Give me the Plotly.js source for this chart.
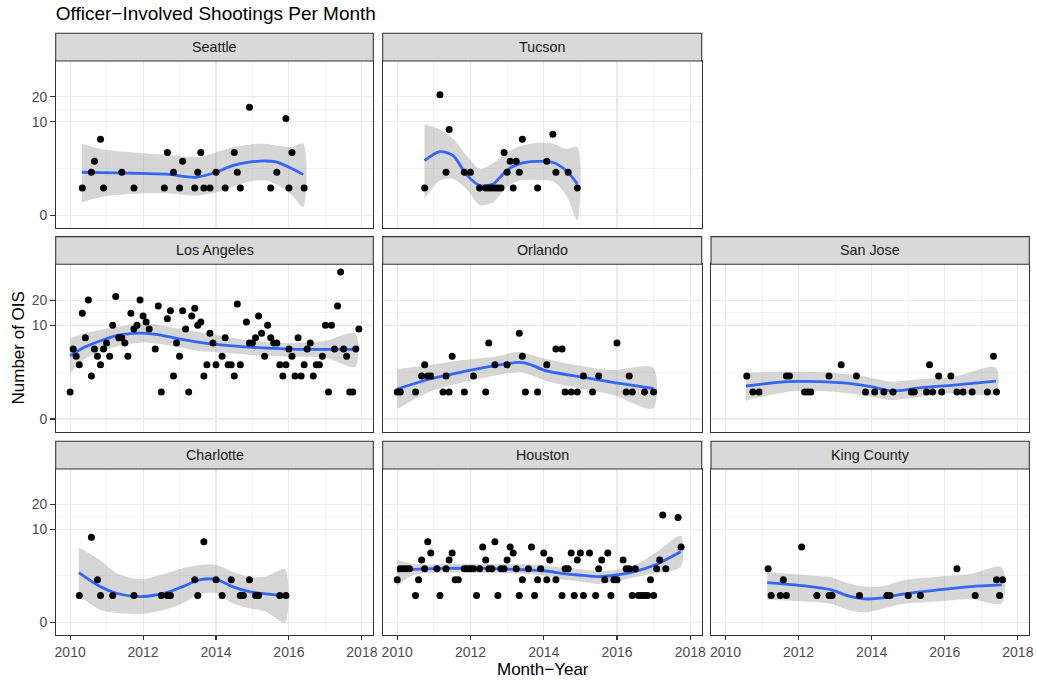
<!DOCTYPE html>
<html><head><meta charset="utf-8">
<script src="https://cdn.plot.ly/plotly-3.0.1.min.js"></script>
<style>html,body{margin:0;padding:0;background:#fff}#chart{width:1037px;height:680px}</style>
</head><body><div id="chart"></div>
<script>
// ---------- DATA (counts per month; fit/ribbon in log(1+n) units) ----------
const xTickLabels = ['2010','2012','2014','2016','2018'];
const yTickLabels = [0, 10, 20];

const seattleMonths = ['2010-05','2010-08','2010-09','2010-11','2010-12','2011-06','2011-10','2012-08','2012-09','2012-11','2013-01','2013-02','2013-06','2013-07','2013-08','2013-09','2013-11','2014-01','2014-04','2014-07','2014-08','2014-09','2014-12','2015-07','2015-09','2015-12','2016-01','2016-02','2016-06'];
const seattleCounts = [1,2,3,6,1,2,1,1,4,2,1,3,1,2,4,1,1,2,1,4,2,1,15,1,2,11,1,4,1];
const seattleFitYear = [2010.32,2010.82,2011.73,2012.64,2013.45,2014.0,2014.45,2014.91,2015.36,2015.64,2016.09,2016.39];
const seattleFit   = [1.10,1.09,1.075,1.05,0.972,1.10,1.27,1.36,1.39,1.365,1.19,1.04];
const seattleUpper = [1.83,1.70,1.61,1.55,1.49,1.61,1.74,1.81,1.83,1.79,1.75,1.84];
const seattleLower = [0.33,0.46,0.545,0.56,0.50,0.58,0.715,0.86,0.89,0.80,0.50,0.20];

const tucsonMonths = ['2010-10','2011-03','2011-05','2011-06','2011-11','2012-01','2012-04','2012-06','2012-07','2012-08','2012-09','2012-10','2012-11','2012-12','2013-01','2013-02','2013-03','2013-04','2013-05','2013-06','2013-11','2014-02','2014-04','2014-05','2014-09','2014-12'];
const tucsonCounts = [1,21,2,8,2,2,1,1,1,1,1,1,1,4,2,3,1,3,2,6,1,3,7,2,2,1];
const tucsonFitYear = [2010.745,2011.164,2011.527,2011.89,2012.255,2012.62,2012.98,2013.345,2013.8,2014.255,2014.618,2014.918];
const tucsonFit   = [1.40,1.63,1.53,1.04,0.76,0.80,1.14,1.32,1.38,1.35,1.14,0.80];
const tucsonUpper = [2.34,2.20,1.96,1.53,1.19,1.34,1.60,1.77,1.855,1.83,1.70,1.74];
const tucsonLower = [0.415,0.887,0.93,0.67,0.26,0.33,0.715,0.887,0.90,0.86,0.50,-0.14];

const laMonths = ['2010-01','2010-02','2010-03','2010-04','2010-05','2010-06','2010-07','2010-08','2010-09','2010-10','2010-11','2010-12',
 '2011-01','2011-02','2011-03','2011-04','2011-05','2011-06','2011-07','2011-08','2011-09','2011-10','2011-11','2011-12',
 '2012-01','2012-02','2012-03','2012-05','2012-06','2012-07','2012-09','2012-10','2012-11','2012-12',
 '2013-01','2013-02','2013-03','2013-04','2013-05','2013-06','2013-07','2013-08','2013-09','2013-10','2013-11','2013-12',
 '2014-01','2014-03','2014-04','2014-05','2014-06','2014-07','2014-08','2014-09','2014-11','2014-12',
 '2015-01','2015-02','2015-03','2015-04','2015-05','2015-06','2015-07','2015-08','2015-09','2015-10','2015-11','2015-12',
 '2016-01','2016-02','2016-03','2016-04','2016-05','2016-06','2016-07','2016-08','2016-09','2016-10','2016-11','2016-12',
 '2017-01','2017-02','2017-03','2017-04','2017-05','2017-06','2017-07','2017-08','2017-09','2017-10','2017-11','2017-12'];
const laCounts = [1,5,4,3,14,7,20,2,5,4,3,5,
 6,4,10,22,7,7,6,4,14,9,10,20,
 13,11,9,5,17,1,12,15,2,6,
 4,15,9,1,13,16,10,11,2,3,8,6,
 3,4,7,3,3,2,18,3,11,6,
 6,7,13,8,4,10,7,6,6,3,2,3,
 5,4,2,7,2,3,5,6,2,3,3,4,
 10,1,10,5,17,42,5,4,1,1,5,9];
const laFitYear = [2010.0,2010.36,2010.82,2011.27,2011.73,2012.0,2012.36,2012.91,2013.55,2014.0,2015.0,2016.0,2017.0,2017.82];
const laFit   = [1.62,1.826,1.996,2.133,2.19,2.20,2.167,2.065,1.963,1.908,1.834,1.79,1.784,1.784];
const laUpper = [2.065,2.19,2.28,2.36,2.42,2.449,2.42,2.32,2.22,2.15,2.0,1.94,2.0,2.19];
const laLower = [1.17,1.51,1.72,1.85,1.93,1.96,1.93,1.85,1.74,1.706,1.638,1.596,1.57,1.34];

const orlandoMonths = ['2010-01','2010-02','2010-07','2010-09','2010-10','2010-11','2010-12','2011-04','2011-05','2011-06','2011-07','2011-11','2012-02','2012-06','2012-07','2012-09','2013-01','2013-05','2013-06','2013-07','2013-11','2014-02','2014-05','2014-07','2014-08','2014-10','2014-12','2015-02','2015-05','2015-07','2016-01','2016-04','2016-05','2016-06','2016-10','2017-01'];
const orlandoCounts = [1,1,1,2,3,2,2,1,2,1,4,1,2,1,6,3,3,8,4,1,1,3,5,5,1,1,1,2,1,2,6,1,2,1,1,1];
const orlandoFitYear = [2010.0,2010.89,2011.8,2012.66,2013.345,2013.62,2014.07,2014.98,2015.89,2016.99];
const orlandoFit   = [0.768,1.024,1.21,1.365,1.45,1.40,1.23,1.084,0.938,0.785];
const orlandoUpper = [1.28,1.382,1.51,1.596,1.724,1.66,1.536,1.365,1.254,1.314];
const orlandoLower = [0.256,0.70,0.938,1.109,1.195,1.13,0.973,0.785,0.614,0.273];

const sanJoseMonths = ['2010-08','2010-10','2010-12','2011-09','2011-10','2012-03','2012-04','2012-05','2012-11','2013-03','2013-08','2013-11','2014-02','2014-05','2014-08','2015-02','2015-03','2015-07','2015-08','2015-09','2015-11','2015-12','2016-03','2016-05','2016-07','2016-10','2017-03','2017-05','2017-06'];
const sanJoseCounts = [2,1,1,2,2,1,1,1,2,3,2,1,1,1,1,1,1,1,3,1,2,1,2,1,1,1,1,4,1];
const sanJoseFitYear = [2010.56,2011.71,2012.62,2013.53,2013.98,2014.53,2014.89,2015.35,2016.25,2017.4];
const sanJoseFit   = [0.845,0.955,0.955,0.895,0.827,0.716,0.742,0.802,0.87,0.972];
const sanJoseUpper = [1.186,1.21,1.194,1.126,1.058,0.955,0.98,1.024,1.084,1.314];
const sanJoseLower = [0.469,0.70,0.716,0.64,0.571,0.486,0.512,0.571,0.657,0.657];

const charlotteMonths = ['2010-04','2010-08','2010-10','2010-11','2011-03','2011-10','2012-07','2012-09','2012-10','2013-06','2013-07','2013-09','2014-01','2014-03','2014-06','2014-09','2014-10','2014-12','2015-02','2015-03','2015-10','2015-12'];
const charlotteCounts = [1,8,2,1,1,1,1,1,1,2,1,7,2,1,2,1,1,2,1,1,1,1];
const charlotteFitYear = [2010.24,2010.82,2011.27,2011.95,2012.64,2013.09,2013.545,2014.0,2014.45,2014.91,2015.36,2015.89];
const charlotteFit   = [1.284,0.925,0.753,0.668,0.77,0.925,1.096,1.113,0.925,0.796,0.736,0.693];
const charlotteUpper = [1.935,1.609,1.267,1.113,1.267,1.395,1.48,1.48,1.31,1.185,1.185,1.37];
const charlotteLower = [0.685,0.326,0.24,0.222,0.342,0.496,0.736,0.753,0.496,0.368,0.283,0.0];

const houstonMonths = ['2010-01','2010-02','2010-03','2010-04','2010-05','2010-07','2010-08','2010-09','2010-10','2010-11','2010-12',
 '2011-02','2011-03','2011-05','2011-06','2011-07','2011-08','2011-09','2011-11','2011-12',
 '2012-01','2012-02','2012-03','2012-04','2012-05','2012-06','2012-07','2012-08','2012-09','2012-10','2012-11','2012-12',
 '2013-01','2013-02','2013-03','2013-04','2013-05','2013-06','2013-08','2013-09','2013-10','2013-11','2013-12',
 '2014-01','2014-02','2014-03','2014-05','2014-07','2014-08','2014-09','2014-10','2014-11','2014-12',
 '2015-01','2015-02','2015-04','2015-06','2015-07','2015-08','2015-09','2015-10','2015-11','2015-12',
 '2016-01','2016-03','2016-04','2016-05','2016-06','2016-07','2016-08','2016-09','2016-10','2016-11','2016-12',
 '2017-01','2017-02','2017-03','2017-04','2017-05','2017-09','2017-10'];
const houstonCounts = [2,3,3,3,3,1,2,4,3,7,5,
 3,1,3,4,5,2,2,3,3,
 3,3,1,3,6,4,3,3,7,1,3,3,
 4,6,5,3,1,2,3,6,1,2,3,
 5,2,4,2,1,3,3,5,1,4,
 5,1,5,1,3,4,2,5,1,2,
 2,4,3,3,1,3,1,1,1,1,2,
 1,3,4,15,3,14,6];
const houstonFitYear = [2010.0,2010.44,2011.35,2012.25,2013.16,2014.07,2014.48,2014.94,2015.48,2015.98,2016.48,2017.03,2017.74];
const houstonFit   = [1.327,1.37,1.395,1.395,1.37,1.327,1.268,1.224,1.181,1.224,1.31,1.48,1.824];
const houstonUpper = [1.627,1.507,1.507,1.507,1.507,1.472,1.42,1.38,1.327,1.353,1.48,1.78,2.234];
const houstonLower = [0.925,1.224,1.284,1.284,1.267,1.2,1.113,1.06,0.993,1.053,1.165,1.267,1.438];

const kingMonths = ['2011-03','2011-04','2011-07','2011-08','2011-09','2012-02','2012-07','2012-11','2012-12','2013-09','2014-06','2014-07','2015-01','2015-05','2016-05','2016-11','2017-06','2017-07','2017-08'];
const kingCounts = [3,1,1,2,1,6,1,1,1,1,1,1,1,1,3,1,2,1,2];
const kingFitYear = [2011.14,2012.16,2012.89,2013.35,2013.8,2014.25,2014.89,2015.8,2016.71,2017.56];
const kingFit   = [1.027,0.942,0.839,0.685,0.608,0.625,0.736,0.839,0.925,0.968];
const kingUpper = [1.31,1.224,1.165,1.01,0.925,0.925,1.096,1.181,1.25,1.42];
const kingLower = [0.582,0.539,0.48,0.325,0.256,0.342,0.48,0.539,0.60,0.497];

// ---------- LAYOUT / DRAWING ----------
const W = 1037, H = 680;
const colPx = [[55.7,373.3],[382.7,701.7],[711,1029.3]];
const rowPx = [[61,227.7],[264.3,431.7],[469,635]];
const stripH = 27.7;
const FONT = 'Liberation Sans, Arial, Helvetica, sans-serif';

const panels = [
  {name:'Seattle', m:seattleMonths, c:seattleCounts, fx:seattleFitYear, f:seattleFit, hi:seattleUpper, lo:seattleLower, r:0, col:0},
  {name:'Tucson', m:tucsonMonths, c:tucsonCounts, fx:tucsonFitYear, f:tucsonFit, hi:tucsonUpper, lo:tucsonLower, r:0, col:1},
  {name:'Los Angeles', m:laMonths, c:laCounts, fx:laFitYear, f:laFit, hi:laUpper, lo:laLower, r:1, col:0},
  {name:'Orlando', m:orlandoMonths, c:orlandoCounts, fx:orlandoFitYear, f:orlandoFit, hi:orlandoUpper, lo:orlandoLower, r:1, col:1},
  {name:'San Jose', m:sanJoseMonths, c:sanJoseCounts, fx:sanJoseFitYear, f:sanJoseFit, hi:sanJoseUpper, lo:sanJoseLower, r:1, col:2},
  {name:'Charlotte', m:charlotteMonths, c:charlotteCounts, fx:charlotteFitYear, f:charlotteFit, hi:charlotteUpper, lo:charlotteLower, r:2, col:0},
  {name:'Houston', m:houstonMonths, c:houstonCounts, fx:houstonFitYear, f:houstonFit, hi:houstonUpper, lo:houstonLower, r:2, col:1},
  {name:'King County', m:kingMonths, c:kingCounts, fx:kingFitYear, f:kingFit, hi:kingUpper, lo:kingLower, r:2, col:2}
];

function monthToYear(s){ const p = s.split('-'); return (+p[0]) + (+p[1]-1)/12; }
const yT = v => Math.log1p(v);
const yTickVals = yTickLabels.map(yT);
const yMinor = [];
for (let i=0;i<yTickVals.length-1;i++) yMinor.push((yTickVals[i]+yTickVals[i+1])/2);
const xTickVals = xTickLabels.map(Number);
const xMinor = [];
for (let i=0;i<xTickVals.length-1;i++) xMinor.push((xTickVals[i]+xTickVals[i+1])/2);

const traces = [];
const layout = {
  width: W, height: H, margin: {l:0,r:0,t:0,b:0},
  paper_bgcolor: '#ffffff', plot_bgcolor: '#ffffff',
  showlegend: false,
  font: {family: FONT},
  title: {text: 'Officer\u2212Involved Shootings Per Month', x: 55.7/W, xanchor: 'left', xref: 'container',
          y: 1 - 13.5/H, yanchor: 'middle', yref: 'container', font: {family: FONT, size: 19, color: '#000000'}},
  shapes: [], annotations: []
};

panels.forEach((p, i) => {
  const k = i + 1;
  const xa = 'x' + (k===1 ? '' : k), ya = 'y' + (k===1 ? '' : k);
  const xDom = [colPx[p.col][0]/W, colPx[p.col][1]/W];
  const yDom = [1 - rowPx[p.r][1]/H, 1 - rowPx[p.r][0]/H];
  const bottom = p.r === 2;
  const left = p.col === 0;
  layout['xaxis' + (k===1 ? '' : k)] = {
    domain: xDom, anchor: ya, range: [2009.604, 2018.313],
    tickmode: 'array', tickvals: xTickVals, ticktext: xTickLabels,
    showticklabels: bottom, ticks: bottom ? 'outside' : '', ticklen: 4.3, tickwidth: 1.07, tickcolor: '#333333',
    tickfont: {family: FONT, size: 14, color: '#4D4D4D'},
    showgrid: true, gridcolor: '#EBEBEB', gridwidth: 1.07,
    minor: {tickmode: 'array', tickvals: xMinor, showgrid: true, gridcolor: '#EBEBEB', gridwidth: 0.53, ticks: ''},
    zeroline: false, showline: true, mirror: true, linecolor: '#333333', linewidth: 1.07, fixedrange: true
  };
  layout['yaxis' + (k===1 ? '' : k)] = {
    domain: yDom, anchor: xa, range: [-0.325, 3.96],
    tickmode: 'array', tickvals: yTickVals, ticktext: yTickLabels.map(String),
    showticklabels: left, ticks: left ? 'outside' : '', ticklen: 4.5, tickwidth: 1.07, tickcolor: '#333333',
    tickfont: {family: FONT, size: 14, color: '#4D4D4D'},
    showgrid: true, gridcolor: '#EBEBEB', gridwidth: 1.07,
    minor: {tickmode: 'array', tickvals: yMinor, showgrid: true, gridcolor: '#EBEBEB', gridwidth: 0.53, ticks: ''},
    zeroline: false, showline: true, mirror: true, linecolor: '#333333', linewidth: 1.07, fixedrange: true
  };
  // ribbon
  traces.push({type: 'scatter', mode: 'lines', xaxis: xa, yaxis: ya,
    x: p.fx.concat(p.fx.slice().reverse()), y: p.hi.concat(p.lo.slice().reverse()),
    fill: 'toself', fillcolor: 'rgba(153,153,153,0.4)', line: {width: 0, shape: 'spline', smoothing: 0.8}, hoverinfo: 'skip'});
  // smooth line
  traces.push({type: 'scatter', mode: 'lines', xaxis: xa, yaxis: ya,
    x: p.fx, y: p.f, line: {color: '#3366FF', width: 2.8, shape: 'spline', smoothing: 0.8}, hoverinfo: 'skip'});
  // points
  traces.push({type: 'scatter', mode: 'markers', xaxis: xa, yaxis: ya,
    x: p.m.map(monthToYear), y: p.c.map(yT),
    marker: {size: 7, color: '#000000'}, hoverinfo: 'skip', cliponaxis: false});
  // strip
  const top = rowPx[p.r][0];
  layout.shapes.push({type: 'rect', xref: 'paper', yref: 'paper',
    x0: xDom[0], x1: xDom[1], y0: 1 - top/H, y1: 1 - (top - stripH)/H,
    fillcolor: '#D9D9D9', line: {color: '#333333', width: 1.07}, layer: 'above'});
  layout.annotations.push({xref: 'paper', yref: 'paper', x: (xDom[0]+xDom[1])/2, y: 1 - (top - stripH/2)/H,
    text: p.name, showarrow: false, xanchor: 'center', yanchor: 'middle',
    font: {family: FONT, size: 14.3, color: '#1A1A1A'}});
});

layout.annotations.push({xref: 'paper', yref: 'paper', x: (colPx[0][0]+colPx[2][1])/2/W, y: 1 - 669.5/H,
  text: 'Month\u2212Year', showarrow: false, xanchor: 'center', yanchor: 'middle', borderpad: 0,
  font: {family: FONT, size: 17, color: '#000000'}});
layout.annotations.push({xref: 'paper', yref: 'paper', x: 17.5/W, y: 1 - 348/H,
  text: 'Number of OIS', showarrow: false, textangle: -90, xanchor: 'center', yanchor: 'middle', borderpad: 0,
  font: {family: FONT, size: 17, color: '#000000'}});

Plotly.newPlot('chart', traces, layout, {displayModeBar: false, staticPlot: true});
</script></body></html>
